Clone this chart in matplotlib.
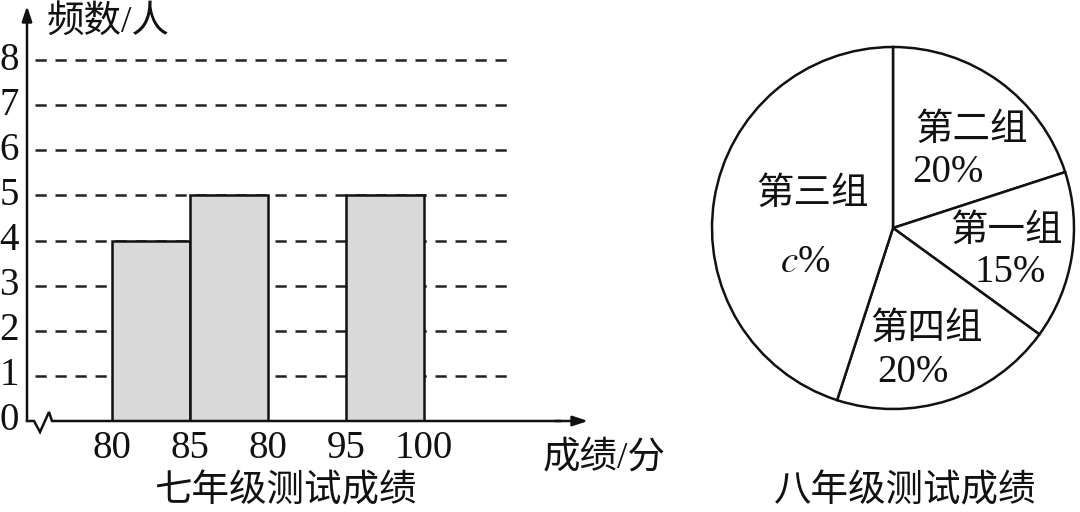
import matplotlib
matplotlib.use("Agg")
import matplotlib.pyplot as plt
import numpy as np

plt.rcParams['font.family'] = ['Liberation Serif', 'Noto Sans CJK SC', 'DejaVu Sans']
plt.rcParams['mathtext.fontset'] = 'stix'

# ---- data ----
bin_edges = [80, 85, 90, 95, 100]
counts = [4, 5, 0, 5]
x_tick_labels = ["80", "85", "80", "95", "100"]
y_ticks = [0, 1, 2, 3, 4, 5, 6, 7, 8]
pie_labels = ["第二组", "第一组", "第四组", "第三组"]
pie_pct_text = ["20%", "15%", "20%", "$c$%"]
pie_values = [20, 15, 20, 45]

W, H = 1080, 512
fig = plt.figure(figsize=(W / 100, H / 100), dpi=100)

# pixel geometry of left chart
px_x0, px_x1 = 27, 588      # axes left/right (pixels)
px_y0, px_y1 = 421, 5       # axes bottom/top (pixels)
px80, px_per_unit_x = 112, 15.6
px_per_unit_y = 45.1

def dx(px):
    return 80 + (px - px80) / px_per_unit_x

def dy(py):
    return (px_y0 - py) / px_per_unit_y

ax = fig.add_axes([px_x0 / W, (H - px_y0) / H, (px_x1 - px_x0) / W, (px_y0 - px_y1) / H])
ax.set_xlim(dx(px_x0), dx(px_x1))
ax.set_ylim(0, dy(px_y1))
ax.axis('off')

# dashed grid lines
for yv in y_ticks[1:]:
    ax.plot([dx(35), dx(515)], [yv, yv], color='#222222', lw=1.8,
            dashes=(4.5, 3.5), zorder=1, solid_capstyle='butt')

# histogram bars
widths = np.diff(bin_edges)
for left, w, c in zip(bin_edges[:-1], widths, counts):
    if c > 0:
        ax.bar(left, c, width=w, align='edge', color='#d9d9d9',
               edgecolor='#111111', lw=1.8, zorder=2)

# y axis with arrow
ax.annotate('', xy=(dx(27), dy(6)), xytext=(dx(27), 0),
            arrowprops=dict(arrowstyle='-|>,head_length=0.9,head_width=0.3',
                            color='#111111', lw=1.8, shrinkA=0, shrinkB=0),
            zorder=3, annotation_clip=False)
# x axis with break and arrow
brk_x = [dx(27), dx(34), dx(40), dx(49), dx(52), dx(560)]
brk_y = [0, 0, dy(432), dy(412), 0, 0]
ax.plot(brk_x, brk_y, color='#111111', lw=1.8, zorder=3, clip_on=False,
        solid_joinstyle='miter')
ax.annotate('', xy=(dx(588), 0), xytext=(dx(555), 0),
            arrowprops=dict(arrowstyle='-|>,head_length=0.9,head_width=0.3',
                            color='#111111', lw=1.8, shrinkA=0, shrinkB=0),
            zorder=3, annotation_clip=False)

# tick labels
for yv in y_ticks:
    ax.text(dx(9), yv, str(yv), ha='center', va='center', fontsize=28,
            color='#111111', clip_on=False)
for xv, lab in zip(bin_edges, x_tick_labels):
    ax.text(xv, dy(448), lab, ha='center', va='center', fontsize=28,
            color='#111111', clip_on=False)

ax.text(dx(47), dy(22), "频数/人", ha='left', va='center', fontsize=27,
        color='#111111', clip_on=False)
ax.text(dx(543), dy(458), "成绩/分", ha='left', va='center', fontsize=27,
        color='#111111', clip_on=False)
fig.text(285 / W, 1 - 492 / H, "七年级测试成绩", ha='center', va='center',
         fontsize=27, color='#111111')
fig.text(905 / W, 1 - 492 / H, "八年级测试成绩", ha='center', va='center',
         fontsize=27, color='#111111')

# ---- pie ----
cx, cy, r = 893, 228, 181
ax2 = fig.add_axes([(cx - r) / W, (H - cy - r) / H, 2 * r / W, 2 * r / H])
ax2.pie(pie_values, startangle=90, counterclock=False, radius=1,
        colors=['white'] * 4,
        wedgeprops=dict(edgecolor='#111111', linewidth=1.8))
ax2.set_xlim(-1.0, 1.0)
ax2.set_ylim(-1.0, 1.0)
ax2.set_aspect('equal')
ax2.axis('off')
for wd in ax2.patches:
    wd.set_clip_on(False)

name_pos = [(972, 131), (1007, 232), (927, 330), (813, 195)]
pct_pos = [(948, 173), (1010, 272), (913, 373), (805, 263)]
for lab, pct, (nx, ny), (qx, qy) in zip(pie_labels, pie_pct_text, name_pos, pct_pos):
    ax2.text((nx - cx) / r, (cy - ny) / r, lab, ha='center', va='center',
             fontsize=27, color='#111111')
    ax2.text((qx - cx) / r, (cy - qy) / r, pct, ha='center', va='center',
             fontsize=28, color='#111111')

fig.savefig("out.png", dpi=100)
